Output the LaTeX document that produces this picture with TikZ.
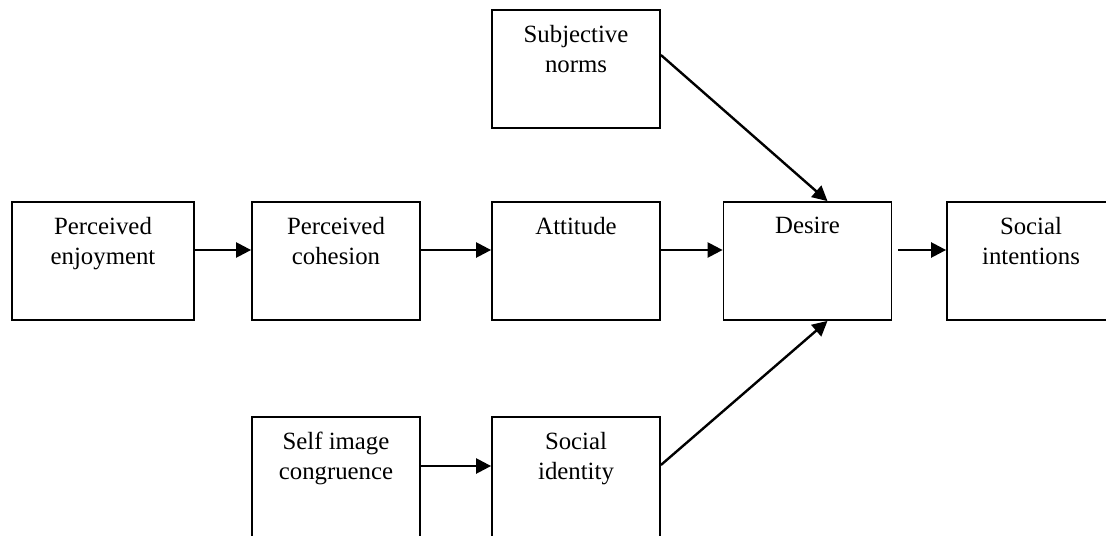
\documentclass[tikz,border=0pt]{standalone}
\usepackage{fontspec}
\setmainfont{Liberation Serif}
\usetikzlibrary{arrows.meta}

\begin{document}
\begin{tikzpicture}[x=0.5pt, y=-0.5pt,
    box/.style={draw, line width=0.9pt, minimum width=84pt, minimum height=59pt, inner sep=0pt},
    txt/.style={anchor=north, yshift=-8pt, inner sep=0pt, align=center, font=\fontsize{12.4}{15}\selectfont},
    arr/.style={line width=1.2pt, -{Triangle[length=7.5pt, width=7.5pt]}}]
    \useasboundingbox (0,0) rectangle (1106,535);
    \clip (0,0) rectangle (1106,535);

    % Boxes
    \node[box, minimum width=91pt] (enjoy) at (103,261) {};
    \node[box] (cohesion) at (336,261) {};
    \node[box] (attitude) at (576,261) {};
    \node[box] (desire) at (807.5,261) {};
    \node[box] (intent) at (1031,261) {};
    \node[box] (norms) at (576,69) {};
    \node[box, minimum height=61pt] (selfimg) at (336,478) {};
    \node[box, minimum height=61pt] (identity) at (576,478) {};

    % Labels
    \node[txt] (enjoy-t) at (enjoy.north) {Perceived\\enjoyment};
    \node[txt] (cohesion-t) at (cohesion.north) {Perceived\\cohesion};
    \node[txt] (attitude-t) at (attitude.north) {Attitude};
    \node[txt] (desire-t) at (desire.north) {Desire};
    \node[txt] (intent-t) at (intent.north) {Social\\intentions};
    \node[txt] (norms-t) at (norms.north) {Subjective\\norms};
    \node[txt] (selfimg-t) at (selfimg.north) {Self image\\congruence};
    \node[txt] (identity-t) at (identity.north) {Social\\identity};

    % Paths
    \draw[arr] ([yshift=5.5pt]enjoy.east) -- ([yshift=5.5pt]cohesion.west);
    \draw[arr] ([yshift=5.5pt]cohesion.east) -- ([yshift=5.5pt]attitude.west);
    \draw[arr] ([yshift=5.5pt]attitude.east) -- ([yshift=5.5pt]desire.west);
    \draw[arr, shorten <=3pt] ([yshift=5.5pt]desire.east) -- ([yshift=5.5pt]intent.west);
    \draw[arr] ([yshift=6pt]selfimg.east) -- ([yshift=6pt]identity.west);
    \draw[arr] ([yshift=7pt]norms.east) -- ([xshift=10pt]desire.north);
    \draw[arr] ([yshift=6.5pt]identity.east) -- ([xshift=10pt]desire.south);
\end{tikzpicture}
\end{document}
